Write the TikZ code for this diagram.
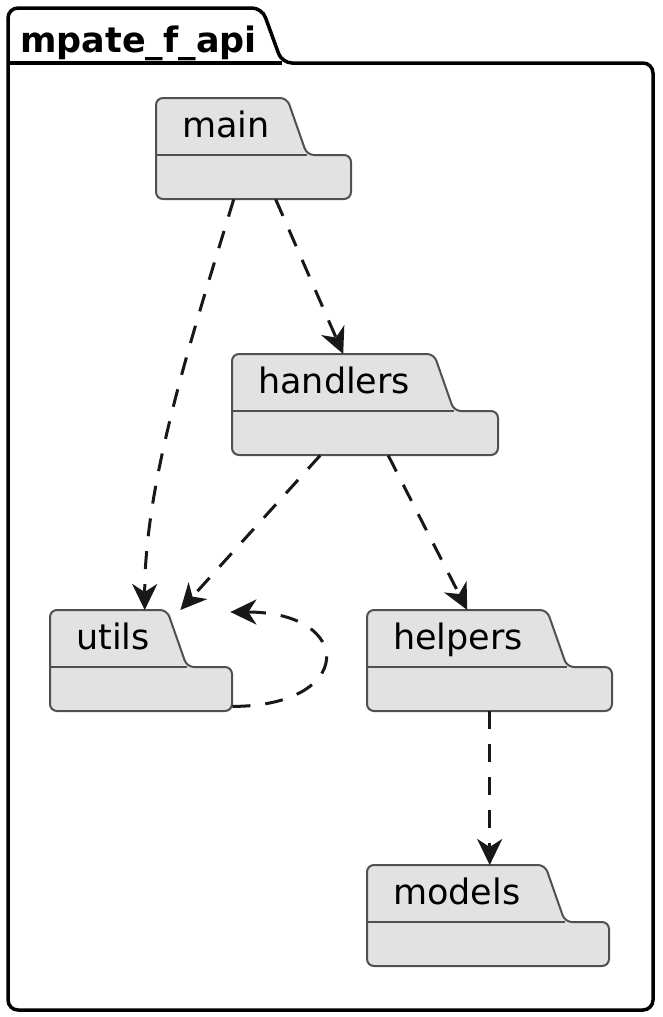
\documentclass[tikz,border=0pt]{standalone}
\usepackage{fontspec}
\setmainfont{DejaVu Sans}
\usetikzlibrary{arrows.meta, positioning}
\definecolor{pfill}{HTML}{E2E2E2}
\definecolor{pline}{HTML}{505050}
\definecolor{cdark}{HTML}{181818}
\tikzset{
  every picture/.style={x=1pt, y=-1pt},
  pkgshape/.style={draw=pline, fill=pfill, line width=2pt, rounded corners=7pt},
  pkgtab/.style={inner xsep=26pt, inner ysep=0pt, minimum height=57pt, text height=26pt, text depth=5pt, align=left, anchor=north west, font=\fontsize{35}{42}\selectfont},
  pkgbody/.style={inner sep=0pt, minimum height=44pt, anchor=north west},
  frame/.style={draw=black, fill=white, line width=3.5pt, rounded corners=10pt},
  dep/.style={draw=cdark, line width=3pt, dash pattern=on 18pt off 15pt, -{Stealth[length=26pt, width=25pt, inset=8pt]}},
}

\begin{document}
\begin{tikzpicture}
  \useasboundingbox (0,0) rectangle (662,1017);
  % outer package
  \filldraw[frame] (8,63) -- (8,8) -- (262,8) -- (282,63) -- (653,63) -- (653,1010) -- (8,1010) -- cycle;
  \draw[line width=3.5pt] (8,63) -- (282,63);
  \node[font=\bfseries\fontsize{35}{42}\selectfont, anchor=base west, inner sep=0pt] (frame-title) at (20,52) {mpate\_f\_api};
  % inner packages
  \foreach \n/\px/\py/\tw/\bw in {main/156/98/151/195, handlers/232/354/222/266, utils/50/610/137/182, helpers/367/610/200/245, models/367/865/198/242} {
    \pgfmathsetmacro\txw{\tw-52}
    \filldraw[pkgshape] (\px,\py+57) -- (\px,\py) -- (\px+\tw-20,\py) -- (\px+\tw,\py+57) -- (\px+\bw,\py+57) -- (\px+\bw,\py+101) -- (\px,\py+101) -- cycle;
    \draw[draw=pline, line width=2pt] (\px,\py+57) -- (\px+\tw,\py+57);
    \node[pkgtab, minimum width=\tw pt, text width=\txw pt] (\n-tab) at (\px,\py) {\n};
    \node[pkgbody, minimum width=\bw pt] (\n) at (\px,\py+57) {};
  }
  % dependencies
  \draw[dep] ([xshift=22pt]main.south) -- (handlers-tab.north);
  \draw[dep] ([xshift=-20pt]main.south) .. controls +(-43,141) and +(0,-128) .. ([xshift=26pt]utils-tab.north);
  \draw[dep] ([xshift=-45pt]handlers.south) -- ([xshift=-7pt]utils-tab.north east);
  \draw[dep] ([xshift=23pt]handlers.south) -- (helpers-tab.north);
  \draw[dep] (helpers.south) -- (helpers.south |- models-tab.north);
  \coordinate (utils-in) at ([xshift=43pt, yshift=-2pt]utils-tab.north east);
  \draw[dep] ([yshift=5pt]utils.south east) .. controls +(123,0) and +(125,0) .. (utils-in);
\end{tikzpicture}
\end{document}
